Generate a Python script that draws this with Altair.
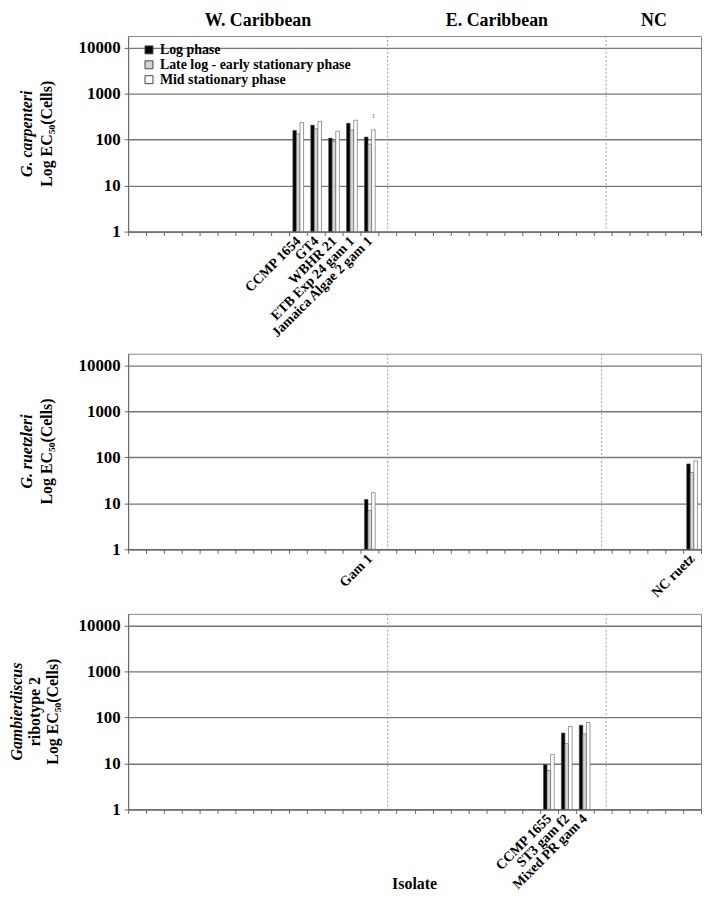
import altair as alt
import pandas as pd

# ---------------- data ----------------
phases = ["Log phase", "Late log - early stationary phase", "Mid stationary phase"]
phase_fill = ["#000000", "#d4d4d4", "#ffffff"]

n_slots = 32

carp_isolates = ["CCMP 1654", "GT4", "WBHR 21", "ETB Exp 24 gam 1", "Jamaica Algae 2 gam 1"]
carp_slots = [9, 10, 11, 12, 13]
carp_log = [159, 207, 108, 228, 114]
carp_late = [134, 173, 92, 163, 80]
carp_mid = [235, 250, 154, 265, 163]

ruet_isolates = ["Gam 1", "NC ruetz"]
ruet_slots = [13, 31]
ruet_log = [12.2, 72]
ruet_late = [7, 47]
ruet_mid = [17, 84]

rib_isolates = ["CCMP 1655", "ST3 gam f2", "Mixed PR gam 4"]
rib_slots = [23, 24, 25]
rib_log = [9.5, 46, 68]
rib_late = [7, 27, 44]
rib_mid = [15.6, 64, 78]

regions = ["W. Caribbean", "E. Caribbean", "NC"]
region_slots = [7, 20, 29]
region_band = [0.25, 0.6, 0.37]

divider_slots = [14, 26]

note_text = ["1"]
note_value = [330]

FONT = "Liberation Serif"
W = 577
H = 197


def slot_names(isolates, slots):
    names = [" " * (i + 1) for i in range(n_slots)]
    for name, s in zip(isolates, slots):
        names[s] = name
    return names


def long_df(isolates, log, late, mid):
    rows = []
    for vals, ph in zip([log, late, mid], phases):
        for iso, v in zip(isolates, vals):
            rows.append({"isolate": iso, "phase": ph, "ec50": v})
    return pd.DataFrame(rows)


def panel(isolates, slots, log, late, mid, ytitles, ytitle_x, ytitle_styles,
          div_bands, legend=False, top_regions=False, note_slot=None, xtitle=None):
    names = slot_names(isolates, slots)
    xscale = alt.Scale(domain=names, paddingInner=0, paddingOuter=0)
    xaxis = alt.Axis(
        title=None,
        labelAngle=-45, labelAlign="right", labelBaseline="middle",
        labelOverlap=False, labelFont=FONT, labelFontSize=14,
        labelFontWeight="bold", labelColor="black", labelPadding=3,
        tickBand="extent", tickSize=4, tickColor="#666",
        domainColor="#666", grid=False,
    )
    yscale = alt.Scale(type="log", domain=[1, 18000], nice=False)
    yaxis = alt.Axis(
        title=None, values=[1, 10, 100, 1000, 10000], format="d",
        labelFont=FONT, labelFontSize=17, labelFontWeight="bold",
        labelColor="black", labelPadding=4, tickSize=4, tickColor="#666",
        domainColor="#666", grid=True, gridColor="#777", gridWidth=1.4,
    )

    layers = []
    for s, b in zip(divider_slots, div_bands):
        layers.append(
            alt.Chart(pd.DataFrame({"isolate": [names[s]]}))
            .mark_rule(color="#999", strokeDash=[2, 2], strokeWidth=1)
            .encode(x=alt.X("isolate:N", bandPosition=b, scale=xscale, axis=xaxis))
        )

    if legend:
        leg = alt.Legend(
            title=None, orient="none", legendX=14, legendY=7,
            labelFont=FONT, labelFontSize=14, labelFontWeight="bold",
            labelColor="black", labelLimit=0, symbolType="square", symbolSize=64,
            symbolStrokeColor="#444", symbolStrokeWidth=1, rowPadding=1,
            labelOffset=4,
        )
    else:
        leg = None

    bars = (
        alt.Chart(long_df(isolates, log, late, mid))
        .mark_bar(stroke="#555", strokeWidth=0.6)
        .encode(
            x=alt.X("isolate:N", scale=xscale, axis=xaxis),
            xOffset=alt.XOffset("phase:N", sort=phases,
                                scale=alt.Scale(domain=phases, paddingInner=0, paddingOuter=1)),
            y=alt.Y("ec50:Q", scale=yscale, axis=yaxis, stack=None),
            y2=alt.datum(1),
            color=alt.Color("phase:N", sort=phases,
                            scale=alt.Scale(domain=phases, range=phase_fill),
                            legend=leg),
        )
    )
    layers.append(bars)

    if note_slot is not None:
        layers.append(
            alt.Chart(pd.DataFrame({"isolate": [names[note_slot]], "t": note_text, "ec50": note_value}))
            .mark_text(font=FONT, fontSize=6, color="#555")
            .encode(x=alt.X("isolate:N", bandPosition=0.7, scale=xscale, axis=xaxis),
                    y=alt.Y("ec50:Q", scale=yscale, axis=yaxis), text="t:N")
        )

    if top_regions:
        for r, s, b in zip(regions, region_slots, region_band):
            layers.append(
                alt.Chart(pd.DataFrame({"isolate": [names[s]], "t": [r]}))
                .mark_text(font=FONT, fontSize=18, fontWeight="bold", color="black",
                           baseline="alphabetic")
                .encode(x=alt.X("isolate:N", bandPosition=b, scale=xscale, axis=xaxis),
                        y=alt.value(-10), text="t:N")
            )

    for t, xv, st in zip(ytitles, ytitle_x, ytitle_styles):
        layers.append(
            alt.Chart(pd.DataFrame({"t": [t]}))
            .mark_text(font=FONT, fontSize=16, fontWeight="bold", fontStyle=st,
                       angle=270, color="black", baseline="middle", align="center")
            .encode(x=alt.value(xv), y=alt.value(H / 2), text="t:N")
        )

    if xtitle:
        layers.append(
            alt.Chart(pd.DataFrame({"t": [xtitle]}))
            .mark_text(font=FONT, fontSize=16, fontWeight="bold", color="black")
            .encode(x=alt.value(W / 2), y=alt.value(H + 75), text="t:N")
        )

    return alt.layer(*layers).properties(width=W, height=H)


p1 = panel(carp_isolates, carp_slots, carp_log, carp_late, carp_mid,
           ["G. carpenteri", "Log EC₅₀(Cells)"], [-102, -82], ["italic", "normal"],
           [0.5, 0.7], legend=True, top_regions=True, note_slot=13)
p2 = panel(ruet_isolates, ruet_slots, ruet_log, ruet_late, ruet_mid,
           ["G. ruetzleri", "Log EC₅₀(Cells)"], [-102, -82], ["italic", "normal"],
           [0.5, 0.45])
p3 = panel(rib_isolates, rib_slots, rib_log, rib_late, rib_mid,
           ["Gambierdiscus", "ribotype 2", "Log EC₅₀(Cells)"], [-112, -94, -76],
           ["italic", "normal", "normal"],
           [0.5, 0.7], xtitle="Isolate")

chart = (
    alt.vconcat(p1, p2, p3, spacing=12)
    .resolve_scale(x="independent", color="independent", xOffset="independent")
    .properties(padding=0, background="white")
    .configure_view(stroke="#888", strokeWidth=1)
)

chart.save("out.html", embed_options={"renderer": "svg", "actions": False})
